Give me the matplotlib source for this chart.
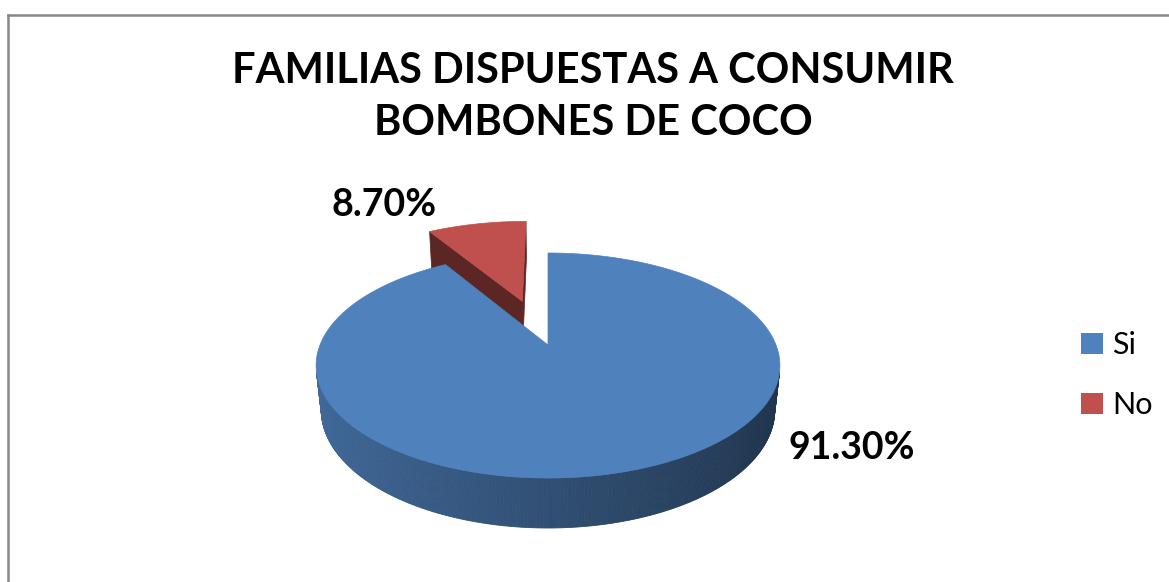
import numpy as np
import matplotlib.pyplot as plt
from matplotlib.patches import Polygon, Patch
from matplotlib.lines import Line2D

# Data
labels = ['Si', 'No']
values = [91.30, 8.70]
value_text = ['91.30%', '8.70%']
top_colors = [(79, 129, 189), (192, 80, 77)]
explode = [0.0, 0.45]
title = 'FAMILIAS DISPUESTAS A CONSUMIR\nBOMBONES DE COCO'

plt.rcParams['font.family'] = ['Lato', 'DejaVu Sans']

W, H = 1169, 582
fig = plt.figure(figsize=(W / 100, H / 100), dpi=100)
ax = fig.add_axes([0, 0, 1, 1])
ax.set_xlim(0, W)
ax.set_ylim(H, 0)
ax.axis('off')

# simple perspective camera for the 3D pie
phi = np.radians(28.5)
s, c = np.sin(phi), np.cos(phi)
D, f = 4.82, 1099.0
cx, cy = 548, 345
depth = 0.224
cam = np.array([0.0, -D * c, D * s])


def proj(x, y, z):
    v = y * s + z * c
    w = y * c - z * s + D
    return cx + f * x / w, cy - f * v / w


def rgb(col, k=1.0):
    return tuple(min(1, max(0, ch * k / 255)) for ch in col)


# slice angles, Excel style: start at 12 o'clock, clockwise
total = sum(values)
slices = []
start = 90.0
for i, v in enumerate(values):
    sweep = 360 * v / total
    a0, a1 = start - sweep, start
    mid = np.radians((a0 + a1) / 2)
    ox, oy = explode[i] * np.cos(mid), explode[i] * np.sin(mid)
    slices.append((i, a0, a1, ox, oy))
    start = a0

# back slices first
slices.sort(key=lambda t: -t[4])

for i, a0, a1, ox, oy in slices:
    col = top_colors[i]
    ts = np.radians(np.linspace(a0, a1, max(4, int((a1 - a0) * 2))))

    # radial cut faces
    for ang, sign in ((np.radians(a0), -1), (np.radians(a1), 1)):
        n = np.array([-np.sin(ang), np.cos(ang), 0]) * sign
        p = np.array([ox + 0.5 * np.cos(ang), oy + 0.5 * np.sin(ang), 0])
        if np.dot(n, cam - p) > 0:
            pts = [(ox, oy, 0), (ox + np.cos(ang), oy + np.sin(ang), 0),
                   (ox + np.cos(ang), oy + np.sin(ang), -depth), (ox, oy, -depth)]
            xy = [proj(*q) for q in pts]
            ax.add_patch(Polygon(xy, closed=True, facecolor=rgb(col, 0.48),
                                 edgecolor=rgb(col, 0.48), lw=0.5))

    # outer curved side
    for t0, t1 in zip(ts[:-1], ts[1:]):
        tm = (t0 + t1) / 2
        n = np.array([np.cos(tm), np.sin(tm), 0])
        p = np.array([ox + np.cos(tm), oy + np.sin(tm), 0])
        if np.dot(n, cam - p) > 0:
            k = 0.61 - 0.21 * np.cos(tm)
            pts = [(ox + np.cos(t0), oy + np.sin(t0), 0), (ox + np.cos(t1), oy + np.sin(t1), 0),
                   (ox + np.cos(t1), oy + np.sin(t1), -depth), (ox + np.cos(t0), oy + np.sin(t0), -depth)]
            xy = [proj(*q) for q in pts]
            ax.add_patch(Polygon(xy, closed=True, facecolor=rgb(col, k),
                                 edgecolor=rgb(col, k), lw=0.6))

    # top face
    xy = [proj(ox, oy, 0)] + [proj(ox + np.cos(t), oy + np.sin(t), 0) for t in ts]
    ax.add_patch(Polygon(xy, closed=True, facecolor=rgb(col), edgecolor=rgb(col), lw=0.5))

# value labels
ax.text(852, 448, value_text[0], ha='center', va='center', fontsize=27, fontweight='bold')
ax.text(384, 205, value_text[1], ha='center', va='center', fontsize=27, fontweight='bold')

# title
ax.text(593, 97, title, ha='center', va='center', fontsize=30, fontweight='bold', linespacing=1.42)

# legend
handles = [Patch(facecolor=rgb(top_colors[i]), edgecolor='none') for i in range(len(labels))]
ax.legend(handles, labels, loc='upper left', bbox_to_anchor=(1066 / W, 1 - 316 / H),
          frameon=False, fontsize=22, handlelength=0.7, handleheight=0.7,
          handletextpad=0.3, labelspacing=1.05, borderpad=0)

# chart frame (cropped on right/bottom)
fig.add_artist(Line2D([7.5 / W, 1], [1 - 15 / H, 1 - 15 / H], color='#888888', lw=1.8))
fig.add_artist(Line2D([7.5 / W, 7.5 / W], [0, 1 - 15 / H], color='#888888', lw=1.8))

fig.savefig('out.png', dpi=100)
